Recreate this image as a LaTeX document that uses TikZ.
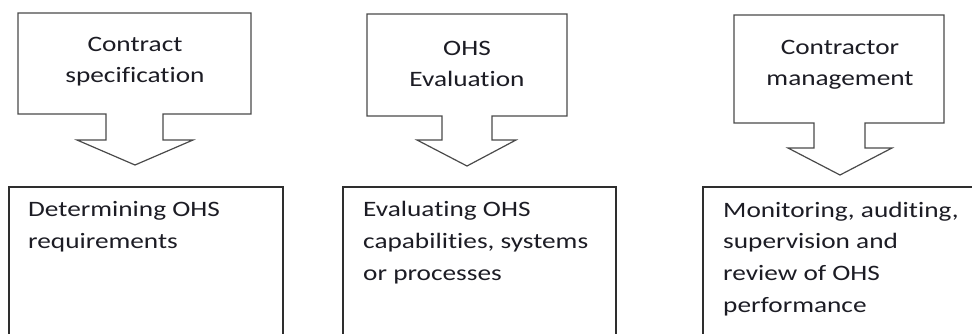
\documentclass[tikz,border=0pt]{standalone}
\usepackage{fontspec}
\setmainfont{Carlito}[FakeStretch=1.24,Ligatures=NoCommon]
\definecolor{calloutline}{HTML}{4A4A4A}
\definecolor{boxline}{HTML}{2E2E2E}
\definecolor{txt}{HTML}{1C1C24}
\begin{document}
\begin{tikzpicture}[x=1pt,y=-1pt,
  callout/.style={draw=calloutline,line width=1.2pt,line join=miter,fill=white},
  openbox/.style={draw=boxline,line width=1.2pt},
  head/.style={align=center,inner sep=0pt,anchor=base,text=txt,font=\fontsize{22}{31.5}\selectfont},
  body/.style={align=left,inner sep=0pt,anchor=base west,text=txt,font=\fontsize{22}{31.6}\selectfont}]
\useasboundingbox (0,0) rectangle (972,334);
\clip (0,0) rectangle (972,334);
% callout 1
\draw[callout] (18,13) -- (251,13) -- (251,114) -- (163,114) -- (163,140) -- (193,140)
  -- (135,165) -- (77,140) -- (106,140) -- (106,114) -- (18,114) -- cycle;
\node[head] (c1) at (135,83) {Contract\\specification};
% callout 2
\draw[callout] (367,14) -- (567,14) -- (567,116) -- (492,116) -- (492,140) -- (516,140)
  -- (467,166) -- (417,140) -- (442,140) -- (442,116) -- (367,116) -- cycle;
\node[head] (c2) at (467,87) {OHS\\Evaluation};
% callout 3
\draw[callout] (734,15) -- (944,15) -- (944,123) -- (865,123) -- (865,148) -- (892,148)
  -- (840,175) -- (788,148) -- (814,148) -- (814,123) -- (734,123) -- cycle;
\node[head] (c3) at (840,86) {Contractor\\management};
% boxes
\draw[openbox] (9,345) -- (9,187) -- (283,187) -- (283,345);
\draw[openbox] (343,345) -- (343,187) -- (616,187) -- (616,345);
\draw[openbox] (703,345) -- (703,187) -- (990,187) -- (990,345);
\node[body] (b1) at (28,248) {Determining OHS\\requirements};
\node[body] (b2) at (363,280) {Evaluating OHS\\capabilities, systems\\or processes};
\node[body] (b3) at (723,312) {Monitoring, auditing,\\supervision and\\review of OHS\\performance};
\end{tikzpicture}
\end{document}
